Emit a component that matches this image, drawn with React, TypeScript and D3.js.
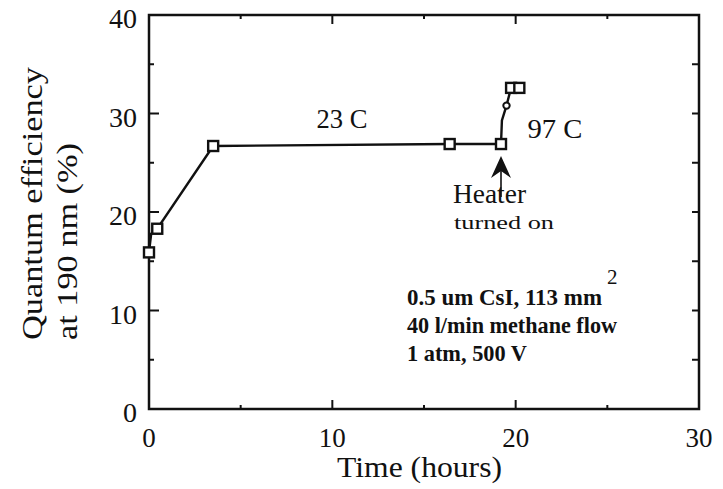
import React from "react";
import * as d3 from "d3";

const timeHours = [0, 0.12, 0.45, 3.5, 16.4, 19.2, 19.25, 19.5, 19.75, 20.2];
const efficiency = [15.9, 17.8, 18.3, 26.7, 26.9, 26.9, 29.3, 30.8, 32.6, 32.6];
const markerKinds = ["square", "none", "square", "square", "square", "square", "none", "circle", "square", "square"];
const xTicks = [0, 10, 20, 30];
const yTicks = [0, 10, 20, 30, 40];
const minorTicks5 = [5, 15, 25, 35];
const notes = ["0.5 um CsI, 113 mm", "40 l/min methane flow", "1 atm, 500 V"];
const noteWidths = [195, 210, 120];

export default function App() {
  const W = 723, H = 489;
  const x = d3.scaleLinear().domain([0, 30]).range([149, 699]);
  const y = d3.scaleLinear().domain([0, 40]).range([409, 15]);
  const line = d3.line<number>().x((_, i) => x(timeHours[i])).y((d) => y(d));
  const font = "'Liberation Serif', 'DejaVu Serif', serif";
  const ink = "#111";
  const ax = x(19.2);
  return (
    <svg width={W} height={H} style={{ position: "absolute", left: 0, top: 0, background: "#fff" }}>
      <rect x={0} y={0} width={W} height={H} fill="#fff" />
      {/* frame */}
      <rect x={x(0)} y={y(40)} width={x(30) - x(0)} height={y(0) - y(40)} fill="none" stroke={ink} strokeWidth={2.5} />
      {/* left ticks */}
      {yTicks.map((t) => (
        <line key={"yl" + t} x1={x(0)} x2={x(0) + 10} y1={y(t)} y2={y(t)} stroke={ink} strokeWidth={2} />
      ))}
      {minorTicks5.map((t) => (
        <line key={"ym" + t} x1={x(0)} x2={x(0) + 5} y1={y(t)} y2={y(t)} stroke={ink} strokeWidth={2} />
      ))}
      {/* right ticks */}
      {yTicks.concat(minorTicks5).map((t) => (
        <line key={"yr" + t} x1={x(30)} x2={x(30) - 7} y1={y(t)} y2={y(t)} stroke={ink} strokeWidth={2} />
      ))}
      {/* bottom ticks */}
      {xTicks.map((t) => (
        <line key={"xb" + t} x1={x(t)} x2={x(t)} y1={y(0)} y2={y(0) - 9} stroke={ink} strokeWidth={2} />
      ))}
      {minorTicks5.slice(0, 3).map((t) => (
        <line key={"xbm" + t} x1={x(t)} x2={x(t)} y1={y(0)} y2={y(0) - 4} stroke={ink} strokeWidth={2} />
      ))}
      {/* top ticks */}
      {xTicks.map((t) => (
        <line key={"xt" + t} x1={x(t)} x2={x(t)} y1={y(40)} y2={y(40) + 9} stroke={ink} strokeWidth={2} />
      ))}
      {minorTicks5.slice(0, 3).map((t) => (
        <line key={"xtm" + t} x1={x(t)} x2={x(t)} y1={y(40)} y2={y(40) + 4} stroke={ink} strokeWidth={2} />
      ))}
      {/* tick labels */}
      {yTicks.map((t) => (
        <text key={"yt" + t} x={137} y={y(t) + 13} textAnchor="end" fontFamily={font} fontSize={28} fill={ink}>
          {t}
        </text>
      ))}
      {xTicks.map((t) => (
        <text key={"xtl" + t} x={x(t)} y={447} textAnchor="middle" fontFamily={font} fontSize={27} fill={ink}>
          {t}
        </text>
      ))}
      {/* axis titles */}
      <text x={337} y={477} fontFamily={font} fontSize={30} fill={ink} textLength={165} lengthAdjust="spacingAndGlyphs">
        Time (hours)
      </text>
      <g transform="translate(42,340) rotate(-90)">
        <text x={0} y={0} fontFamily={font} fontSize={29} fill={ink} textLength={273} lengthAdjust="spacingAndGlyphs">
          Quantum efficiency
        </text>
        <text x={0} y={35} fontFamily={font} fontSize={29} fill={ink} textLength={197} lengthAdjust="spacingAndGlyphs">
          at 190 nm (%)
        </text>
      </g>
      {/* data line */}
      <path d={line(efficiency) || ""} fill="none" stroke={ink} strokeWidth={2.4} />
      {efficiency.map((v, i) =>
        markerKinds[i] === "square" ? (
          <rect key={"m" + i} x={x(timeHours[i]) - 5} y={y(v) - 5} width={10} height={10} fill="#fff" stroke={ink} strokeWidth={2.4} />
        ) : markerKinds[i] === "circle" ? (
          <circle key={"m" + i} cx={x(timeHours[i])} cy={y(v)} r={3.2} fill="#fff" stroke={ink} strokeWidth={2} />
        ) : null
      )}
      {/* annotations */}
      <text x={342} y={128} textAnchor="middle" fontFamily={font} fontSize={27} fill={ink} textLength={51} lengthAdjust="spacingAndGlyphs">23 C</text>
      <text x={555} y={138} textAnchor="middle" fontFamily={font} fontSize={27} fill={ink} textLength={55} lengthAdjust="spacingAndGlyphs">97 C</text>
      <line x1={ax} x2={ax} y1={197} y2={170} stroke={ink} strokeWidth={1.6} />
      <path d={`M${ax},156 L${ax - 10},178 L${ax},171 L${ax + 10},178 Z`} fill={ink} />
      <text x={453} y={203} fontFamily={font} fontSize={28} fill={ink} textLength={73} lengthAdjust="spacingAndGlyphs">Heater</text>
      <text x={454} y={229} fontFamily={font} fontSize={19} fill={ink} textLength={100} lengthAdjust="spacingAndGlyphs">turned on</text>
      {notes.map((n, i) => (
        <text key={"n" + i} x={407} y={305 + i * 28} fontFamily={font} fontSize={23} fontWeight="bold" fill={ink}>
          <tspan textLength={noteWidths[i]} lengthAdjust="spacingAndGlyphs">{n}</tspan>
          {i === 0 ? <tspan x={607} y={284} fontSize={21} fontWeight="normal">2</tspan> : null}
        </text>
      ))}
    </svg>
  );
}
